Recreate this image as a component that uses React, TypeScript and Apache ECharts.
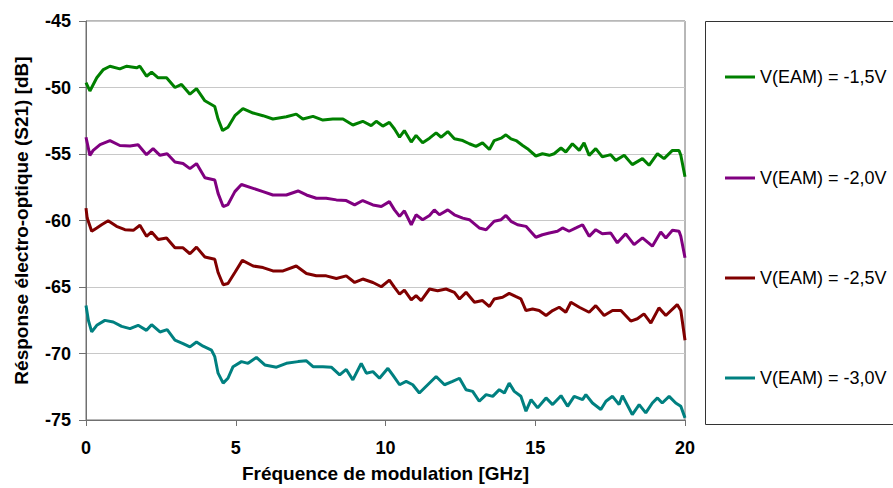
import React, { useEffect, useRef } from "react";
import * as echarts from "echarts";

const seriesNames = ["V(EAM) = -1,5V", "V(EAM) = -2,0V", "V(EAM) = -2,5V", "V(EAM) = -3,0V"];
const seriesColors = ["#008000", "#800080", "#800000", "#008080"];
const xTicks = [0, 5, 10, 15, 20];
const yTicks = [-75, -70, -65, -60, -55, -50, -45];

const green: number[][] = [[0,-49.64],[0.13,-50.26],[0.36,-49.27],[0.58,-48.65],[0.8,-48.4],[1.13,-48.6],[1.36,-48.4],[1.69,-48.52],[1.8,-48.4],[2.02,-49.15],[2.19,-48.85],[2.41,-49.27],[2.69,-49.27],[2.97,-50.0],[3.19,-49.77],[3.47,-50.5],[3.69,-50.09],[3.97,-51.0],[4.3,-51.43],[4.41,-52.37],[4.56,-53.24],[4.74,-52.99],[4.97,-52.12],[5.24,-51.58],[5.58,-51.92],[5.91,-52.12],[6.24,-52.37],[6.69,-52.2],[7.02,-52.0],[7.24,-52.37],[7.58,-52.17],[7.91,-52.45],[8.24,-52.37],[8.58,-52.37],[8.91,-52.82],[9.24,-52.54],[9.52,-52.87],[9.69,-52.54],[9.91,-52.9],[10.13,-52.62],[10.3,-53.12],[10.47,-53.74],[10.63,-53.24],[10.86,-54.1],[11.02,-53.6],[11.24,-54.16],[11.47,-53.81],[11.69,-53.41],[11.86,-53.74],[12.08,-53.31],[12.3,-53.86],[12.58,-53.99],[12.8,-54.23],[13.02,-54.43],[13.24,-54.16],[13.47,-54.66],[13.63,-53.99],[13.86,-53.81],[14.02,-53.56],[14.19,-53.86],[14.36,-53.99],[14.58,-54.36],[14.74,-54.6],[15.02,-55.15],[15.24,-54.98],[15.47,-55.1],[15.63,-54.98],[15.86,-54.55],[16.02,-54.85],[16.24,-54.23],[16.47,-54.73],[16.63,-54.16],[16.8,-55.1],[17.02,-54.6],[17.24,-55.22],[17.52,-55.05],[17.69,-55.48],[17.97,-55.1],[18.24,-55.8],[18.58,-55.35],[18.8,-55.85],[19.08,-54.98],[19.3,-55.35],[19.58,-54.73],[19.8,-54.73],[19.86,-55.1],[20,-56.71]];

const purple: number[][] = [[0,-53.74],[0.13,-55.1],[0.24,-54.73],[0.47,-54.3],[0.8,-53.99],[1.13,-54.36],[1.47,-54.4],[1.74,-54.3],[2.02,-55.05],[2.24,-54.6],[2.47,-55.1],[2.71,-54.98],[2.97,-55.6],[3.24,-55.72],[3.47,-56.1],[3.69,-55.72],[3.97,-56.79],[4.3,-56.96],[4.41,-57.96],[4.58,-58.95],[4.74,-58.8],[4.97,-57.83],[5.19,-57.29],[5.58,-57.58],[5.91,-57.83],[6.24,-58.08],[6.69,-58.08],[7.08,-57.78],[7.36,-58.08],[7.69,-58.33],[8.02,-58.33],[8.36,-58.45],[8.69,-58.5],[8.97,-58.83],[9.24,-58.5],[9.58,-58.83],[9.86,-58.95],[10.13,-58.58],[10.3,-59.2],[10.47,-59.69],[10.63,-59.27],[10.86,-60.32],[11.02,-59.57],[11.24,-59.94],[11.47,-59.62],[11.63,-59.2],[11.8,-59.57],[12.08,-59.2],[12.3,-59.57],[12.58,-59.82],[12.8,-59.94],[13.13,-60.56],[13.36,-60.69],[13.63,-60.06],[13.86,-59.94],[14.02,-59.62],[14.19,-60.06],[14.41,-60.32],[14.69,-60.44],[15.02,-61.26],[15.24,-61.07],[15.47,-60.94],[15.74,-60.81],[15.91,-60.56],[16.13,-60.81],[16.36,-60.56],[16.58,-60.32],[16.8,-61.19],[17.02,-60.69],[17.24,-61.0],[17.52,-60.94],[17.74,-61.68],[18.02,-61.0],[18.3,-61.81],[18.58,-61.31],[18.91,-61.93],[19.19,-60.87],[19.36,-61.31],[19.58,-60.74],[19.8,-60.81],[19.86,-61.19],[20,-62.8]];

const darkRed: number[][] = [[0,-59.07],[0.04,-59.82],[0.19,-60.81],[0.36,-60.56],[0.52,-60.32],[0.74,-60.02],[1.02,-60.44],[1.3,-60.69],[1.58,-60.74],[1.8,-60.36],[2.02,-61.19],[2.19,-60.86],[2.41,-61.43],[2.69,-61.31],[2.97,-62.05],[3.24,-62.05],[3.47,-62.5],[3.69,-62.0],[3.97,-62.75],[4.3,-62.92],[4.41,-63.91],[4.58,-64.83],[4.74,-64.74],[4.97,-63.91],[5.22,-63.0],[5.58,-63.42],[5.91,-63.54],[6.24,-63.79],[6.58,-63.79],[7.02,-63.42],[7.36,-63.99],[7.69,-64.16],[8.02,-64.16],[8.36,-64.36],[8.69,-64.16],[8.97,-64.66],[9.24,-64.4],[9.58,-64.66],[9.86,-64.98],[10.13,-64.48],[10.3,-65.03],[10.47,-65.53],[10.63,-65.23],[10.86,-65.97],[11.02,-65.65],[11.19,-66.02],[11.47,-65.15],[11.74,-65.28],[12.02,-65.15],[12.3,-65.4],[12.47,-65.9],[12.69,-65.4],[12.97,-66.15],[13.24,-66.02],[13.47,-66.47],[13.63,-65.9],[13.91,-65.77],[14.13,-65.48],[14.36,-65.73],[14.52,-65.9],[14.69,-66.77],[14.91,-66.65],[15.13,-66.77],[15.36,-67.14],[15.58,-66.77],[15.8,-66.52],[16.02,-66.9],[16.19,-66.15],[16.47,-66.52],[16.8,-66.9],[17.02,-66.4],[17.3,-67.14],[17.58,-66.77],[17.86,-66.77],[18.19,-67.56],[18.41,-67.39],[18.63,-67.02],[18.86,-67.71],[19.13,-66.57],[19.36,-67.14],[19.74,-66.32],[19.86,-66.77],[20,-69.0]];

const teal: number[][] = [[0,-66.39],[0.08,-67.51],[0.19,-68.38],[0.36,-67.88],[0.63,-67.51],[0.91,-67.63],[1.19,-67.96],[1.47,-68.13],[1.74,-67.88],[2.02,-68.26],[2.19,-67.83],[2.47,-68.38],[2.71,-68.21],[2.97,-69.0],[3.24,-69.25],[3.47,-69.5],[3.69,-69.13],[3.91,-69.45],[4.19,-69.74],[4.3,-70.24],[4.41,-71.48],[4.58,-72.23],[4.74,-71.86],[4.91,-70.99],[5.19,-70.61],[5.41,-70.74],[5.69,-70.29],[5.97,-70.86],[6.36,-71.03],[6.69,-70.74],[7.08,-70.61],[7.36,-70.55],[7.58,-70.99],[7.91,-70.99],[8.19,-71.03],[8.47,-71.61],[8.69,-71.2],[8.91,-71.98],[9.19,-70.74],[9.36,-71.48],[9.58,-71.36],[9.8,-71.86],[10.08,-71.11],[10.24,-71.61],[10.47,-72.35],[10.69,-72.1],[10.91,-72.35],[11.13,-72.97],[11.41,-72.35],[11.69,-71.73],[11.97,-72.35],[12.24,-72.1],[12.47,-71.86],[12.69,-72.72],[12.91,-72.85],[13.13,-73.59],[13.36,-73.09],[13.58,-73.22],[13.8,-72.72],[13.97,-72.97],[14.13,-72.23],[14.3,-72.85],[14.52,-73.22],[14.69,-74.34],[14.86,-73.47],[15.08,-74.09],[15.36,-73.34],[15.58,-73.84],[15.86,-73.17],[16.08,-73.97],[16.3,-73.22],[16.58,-73.47],[16.69,-73.09],[16.91,-73.72],[17.19,-74.21],[17.36,-73.59],[17.58,-73.22],[17.8,-73.84],[17.91,-73.17],[18.24,-74.59],[18.47,-73.84],[18.69,-74.46],[18.91,-73.72],[19.08,-73.34],[19.24,-73.72],[19.47,-73.22],[19.69,-73.72],[19.86,-73.97],[20,-74.84]];

const seriesData = [green, purple, darkRed, teal];
const FONT = "'Liberation Sans', Arial, sans-serif";

export default function App() {
  const ref = useRef<HTMLDivElement>(null);
  useEffect(() => {
    if (!ref.current) return;
    const chart = echarts.init(ref.current, undefined, { renderer: "svg" });
    const legendCenters = [72, 173, 273, 373];
    chart.setOption({
      animation: false,
      backgroundColor: "#ffffff",
      textStyle: { fontFamily: FONT },
      grid: {
        left: 86, right: 208, top: 21, bottom: 64,
        show: true, borderColor: "#707070", borderWidth: 1, backgroundColor: "transparent",
      },
      xAxis: {
        type: "value",
        min: xTicks[0], max: xTicks[xTicks.length - 1], interval: 5,
        axisLine: { show: true, lineStyle: { color: "#707070", width: 1 } },
        axisTick: { show: true, length: 6, lineStyle: { color: "#707070" } },
        splitLine: { show: false },
        axisLabel: { color: "#000", fontSize: 18, fontWeight: "bold", fontFamily: FONT, margin: 19 },
        name: "Fréquence de modulation [GHz]",
        nameLocation: "middle",
        nameGap: 44,
        nameTextStyle: { color: "#000", fontSize: 19, fontWeight: "bold", fontFamily: FONT },
      },
      yAxis: {
        type: "value",
        min: yTicks[0], max: yTicks[yTicks.length - 1], interval: 5,
        axisLine: { show: true, lineStyle: { color: "#707070", width: 1 } },
        axisTick: { show: true, length: 7, lineStyle: { color: "#707070" } },
        splitLine: { show: true, lineStyle: { color: "#c8c8c8", width: 1 } },
        axisLabel: { color: "#000", fontSize: 18, fontWeight: "bold", fontFamily: FONT, margin: 15 },
        name: "Résponse électro-optique (S21) [dB]",
        nameLocation: "middle",
        nameRotate: 90,
        nameGap: 55,
        nameTextStyle: { color: "#000", fontSize: 19, fontWeight: "bold", fontFamily: FONT },
      },
      legend: seriesNames.map((n, i) => ({
        data: [n],
        left: 720,
        top: legendCenters[i] - 9,
        icon: "rect",
        itemWidth: 30,
        itemHeight: 3,
        textStyle: { color: "#000", fontSize: 18, lineHeight: 18, fontFamily: FONT },
      })),
      graphic: [
        {
          type: "rect",
          shape: { x: 705.5, y: 21.5, width: 200, height: 403 },
          style: { fill: "none", stroke: "#333", lineWidth: 1 },
          silent: true,
        },
      ],
      series: seriesNames.map((n, i) => ({
        name: n,
        type: "line",
        data: seriesData[i],
        symbol: "none",
        color: seriesColors[i],
        lineStyle: { color: seriesColors[i], width: 3 },
      })),
    });
    return () => chart.dispose();
  }, []);
  return <div ref={ref} style={{ position: "fixed", left: 0, top: 0, width: 893, height: 488 }} />;
}
